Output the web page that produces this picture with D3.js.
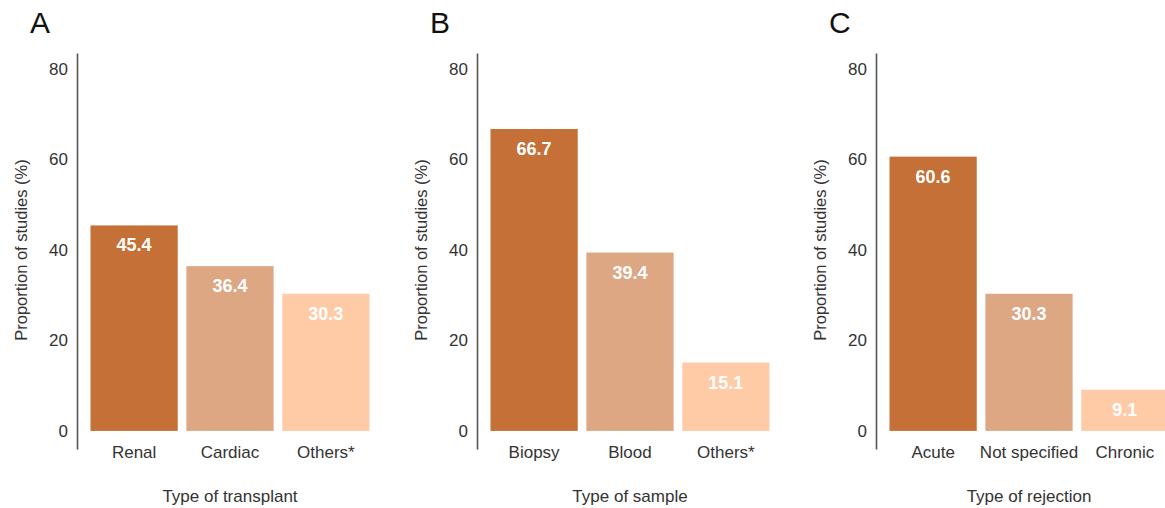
<!DOCTYPE html>
<html>
<head>
<meta charset="utf-8">
<script src="https://cdn.jsdelivr.net/npm/d3@7"></script>
<style>
  body { margin: 0; background: #fff; }
  text { font-family: "Liberation Sans", Arial, sans-serif; }
</style>
</head>
<body>
<svg id="graph" width="1165" height="508"></svg>
<script>
var panelLetters = ["A", "B", "C"];
var xTitles = ["Type of transplant", "Type of sample", "Type of rejection"];
var catsA = ["Renal", "Cardiac", "Others*"];
var catsB = ["Biopsy", "Blood", "Others*"];
var catsC = ["Acute", "Not specified", "Chronic"];
var valsA = [45.4, 36.4, 30.3];
var valsB = [66.7, 39.4, 15.1];
var valsC = [60.6, 30.3, 9.1];
var yTicks = [0, 20, 40, 60, 80];
var colors = ["#c47036", "#dda784", "#ffcba7"];

var panels = [
  { letter: panelLetters[0], title: xTitles[0], cats: catsA, vals: valsA, ax: 77 },
  { letter: panelLetters[1], title: xTitles[1], cats: catsB, vals: valsB, ax: 477 },
  { letter: panelLetters[2], title: xTitles[2], cats: catsC, vals: valsC, ax: 876 }
];

var svg = d3.select("#graph");

var y = d3.scaleLinear()
  .domain([-4, 83.5])
  .range([449, 53]);

panels.forEach(function(p) {
  var g = svg.append("g");

  var x = d3.scaleBand()
    .domain(p.cats)
    .range([p.ax + 13.5, p.ax + 292.5])
    .paddingInner(0.09)
    .paddingOuter(0);

  // y axis
  g.append("g")
    .attr("transform", `translate(${p.ax},0)`)
    .call(d3.axisLeft(y).tickValues(yTicks).tickSize(0).tickPadding(9))
    .call(g => g.select(".domain").attr("stroke", "#555").attr("stroke-width", 1.6))
    .call(g => g.selectAll(".tick text")
      .attr("fill", "#333")
      .style("font-size", "17px")
      .style("font-family", "'Liberation Sans', Arial, sans-serif"));

  // bars
  g.selectAll("rect")
    .data(p.vals)
    .join("rect")
    .attr("x", (d, i) => x(p.cats[i]))
    .attr("width", x.bandwidth())
    .attr("y", d => y(d))
    .attr("height", d => y(0) - y(d))
    .attr("fill", (d, i) => colors[i]);

  // value labels
  g.selectAll(".val")
    .data(p.vals)
    .join("text")
    .attr("class", "val")
    .attr("x", (d, i) => x(p.cats[i]) + x.bandwidth() / 2)
    .attr("y", d => y(d) + 26)
    .attr("text-anchor", "middle")
    .attr("fill", "#fff")
    .attr("font-weight", "bold")
    .style("font-size", "18px")
    .text(d => d.toFixed(1));

  // category labels
  g.selectAll(".cat")
    .data(p.cats)
    .join("text")
    .attr("class", "cat")
    .attr("x", d => x(d) + x.bandwidth() / 2)
    .attr("y", 458)
    .attr("text-anchor", "middle")
    .attr("fill", "#333")
    .style("font-size", "17px")
    .text(d => d);

  // x title
  g.append("text")
    .attr("x", p.ax + 153)
    .attr("y", 502)
    .attr("text-anchor", "middle")
    .attr("fill", "#333")
    .style("font-size", "17px")
    .text(p.title);

  // y title
  g.append("text")
    .attr("transform", `translate(${p.ax - 50},250) rotate(-90)`)
    .attr("text-anchor", "middle")
    .attr("fill", "#333")
    .style("font-size", "16.5px")
    .text("Proportion of studies (%)");

  // panel letter
  g.append("text")
    .attr("x", p.ax - 47)
    .attr("y", 33)
    .attr("fill", "#111")
    .style("font-size", "30px")
    .text(p.letter);
});
</script>
</body>
</html>
